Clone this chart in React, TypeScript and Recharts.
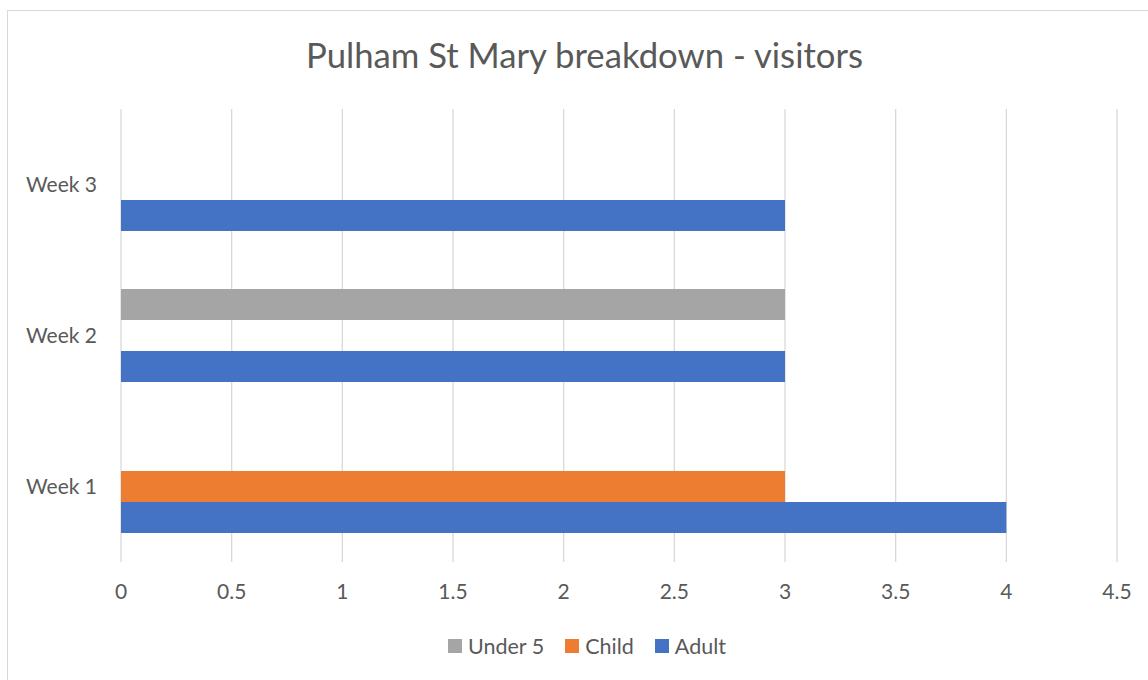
import { BarChart, Bar, XAxis, YAxis, CartesianGrid } from "recharts";

const weeks = ["Week 1", "Week 2", "Week 3"];
const adult = [4, 3, 3];
const child = [3, 0, 0];
const under5 = [0, 3, 0];
const xTicks = [0, 0.5, 1, 1.5, 2, 2.5, 3, 3.5, 4, 4.5];

const series = [
  { key: "under5", name: "Under 5", color: "#A5A5A5" },
  { key: "child", name: "Child", color: "#ED7D31" },
  { key: "adult", name: "Adult", color: "#4472C4" },
];

// Week 1 sits at the bottom, so rows go top-down from Week 3
const rows = weeks
  .map((w, i) => ({ week: w, adult: adult[i], child: child[i], under5: under5[i] }))
  .reverse();

const FONT = "Lato, 'Open Sans', sans-serif";
const TEXT = "#595959";

export default function App() {
  return (
    <div style={{ position: "absolute", left: 0, top: 0, width: 1148, height: 680, overflow: "hidden", background: "#fff", fontFamily: FONT }}>
      <div style={{ position: "absolute", left: 7, top: 10, width: 1200, height: 720, borderLeft: "1px solid #D9D9D9", borderTop: "1px solid #D9D9D9" }} />
      <div style={{ position: "absolute", left: 0, top: 31, width: 1169, textAlign: "center", fontSize: 34.7, color: TEXT, lineHeight: "48px" }}>
        Pulham St Mary breakdown - visitors
      </div>
      <div style={{ position: "absolute", left: 0, top: 0 }}>
        <BarChart
          width={1148}
          height={680}
          data={rows}
          layout="vertical"
          margin={{ top: 109, right: 31, bottom: 78, left: 0 }}
          barSize={31}
          barGap={0}
        >
          <CartesianGrid horizontal={false} stroke="#D9D9D9" strokeWidth={1.3} />
          <XAxis
            type="number"
            domain={[0, 4.5]}
            ticks={xTicks}
            height={40}
            axisLine={false}
            tickLine={false}
            tickSize={0}
            tickMargin={22}
            tick={{ fill: TEXT, fontSize: 21, fontFamily: FONT }}
            interval={0}
          />
          <YAxis
            type="category"
            dataKey="week"
            width={121}
            axisLine={false}
            tickLine={false}
            tickSize={0}
            tickMargin={24}
            tick={{ fill: TEXT, fontSize: 21, fontFamily: FONT }}
          />
          {series.map((s) => (
            <Bar key={s.key} dataKey={s.key} name={s.name} fill={s.color} isAnimationActive={false} />
          ))}
        </BarChart>
      </div>
      <div style={{ position: "absolute", left: 0, top: 632, width: 1174, display: "flex", justifyContent: "center", gap: 21, fontSize: 21.5, color: TEXT }}>
        {series.map((s) => (
          <div key={s.key} style={{ display: "flex", alignItems: "center", gap: 6 }}>
            <span style={{ display: "inline-block", width: 14, height: 14, background: s.color }} />
            <span style={{ lineHeight: "28px" }}>{s.name}</span>
          </div>
        ))}
      </div>
    </div>
  );
}
